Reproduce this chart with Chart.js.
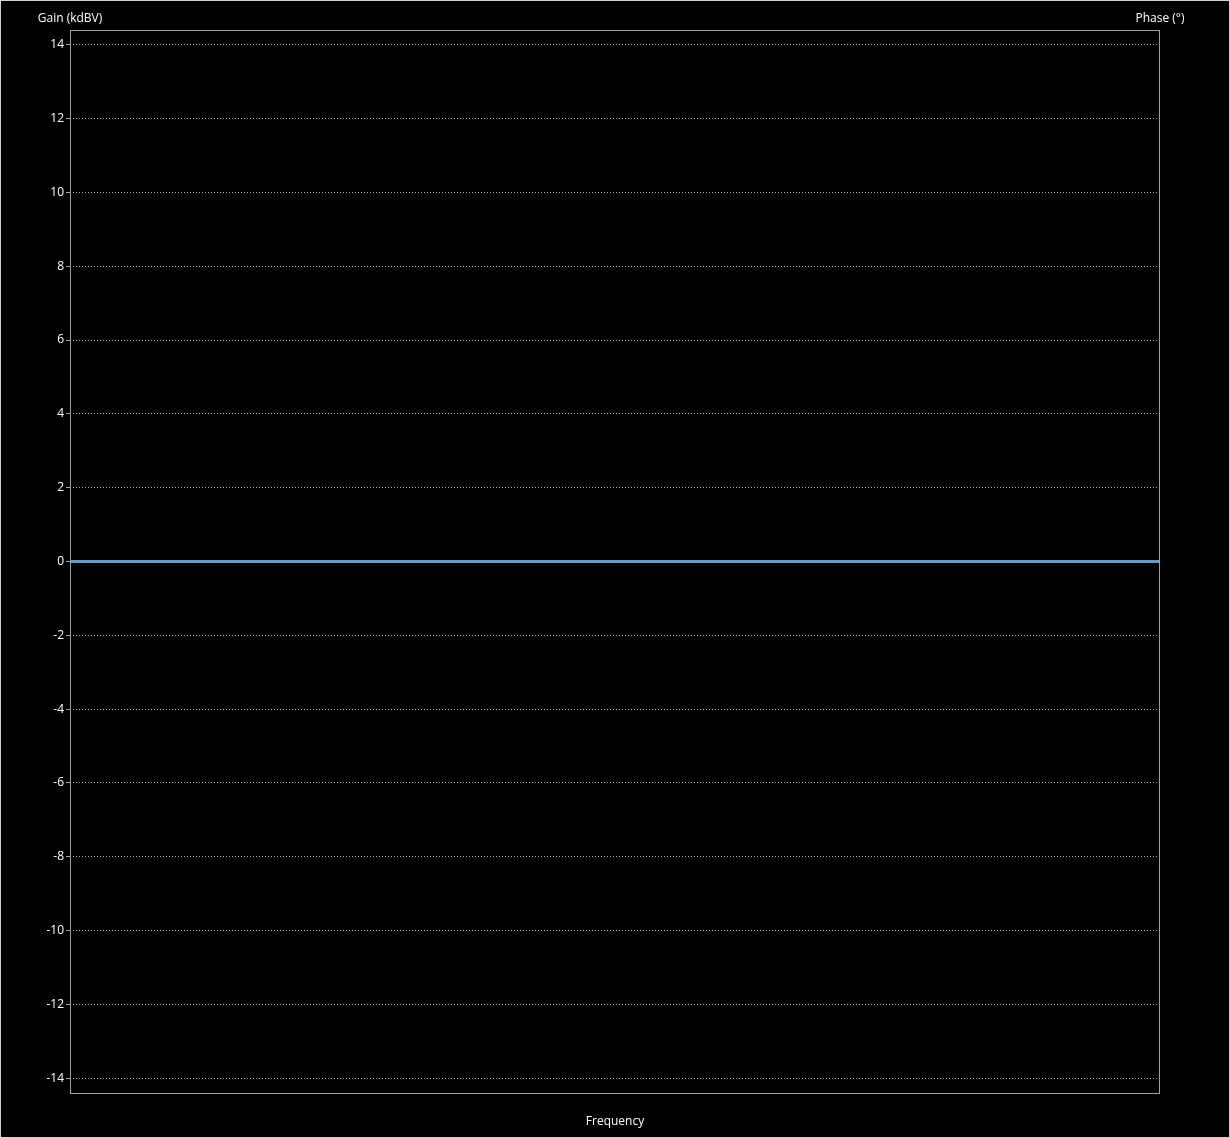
<!DOCTYPE html>
<html>
<head>
<meta charset="utf-8">
<script src="https://cdn.jsdelivr.net/npm/chart.js@4/dist/chart.umd.min.js"></script>
<style>
  html, body { margin: 0; padding: 0; background: #000; }
  #wrap { width: 1230px; height: 1138px; }
</style>
</head>
<body>
<div id="wrap"><canvas id="bode"></canvas></div>
<script>
const frequencies = [10, 100, 1000, 10000, 100000]
const gain = [0, 0, 0, 0, 0]
const gainTicks = [-14, -12, -10, -8, -6, -4, -2, 0, 2, 4, 6, 8, 10, 12, 14]
const gainRange = [-14.4, 14.4]

const labelFont = {family: "'Open Sans', 'Noto Sans', sans-serif", size: 12}

// black background, outer frame, box around the plot and the titles
const framePlugin = {
    id: 'frame',
    beforeDraw(chart) {
        const ctx = chart.ctx
        ctx.save()
        ctx.fillStyle = '#000'
        ctx.fillRect(0, 0, chart.width, chart.height)
        ctx.strokeStyle = '#d0d0d0'
        ctx.lineWidth = 1
        ctx.strokeRect(0.5, 0.5, chart.width - 1, chart.height - 1)
        ctx.restore()
    },
    afterDraw(chart) {
        const ctx = chart.ctx
        const a = chart.chartArea
        ctx.save()
        ctx.strokeStyle = '#a0a0a0'
        ctx.lineWidth = 1
        ctx.strokeRect(Math.round(a.left) + 0.5, Math.round(a.top) + 0.5, Math.round(a.right - a.left) - 1, Math.round(a.bottom - a.top))
        ctx.fillStyle = '#ffffff'
        ctx.font = `${labelFont.size}px ${labelFont.family}`
        ctx.textAlign = 'center'
        ctx.textBaseline = 'middle'
        ctx.fillText('Gain (kdBV)', a.left, 19)
        ctx.fillText('Phase (°)', a.right, 19)
        ctx.fillText('Frequency', (a.left + a.right) / 2, 1122)
        ctx.restore()
    }
}

new Chart('bode', {
    type: 'line',
    data: {
        datasets: [{
            label: 'Gain',
            data: frequencies.map((f, i) => ({x: f, y: gain[i]})),
            borderColor: '#5a9dd0',
            borderWidth: 3,
            pointRadius: 0,
            yAxisID: 'y'
        }]
    },
    options: {
        responsive: true,
        maintainAspectRatio: false,
        animation: false,
        layout: {padding: {top: 30, left: 0, right: 0, bottom: 0}},
        plugins: {
            legend: {display: false},
            tooltip: {enabled: false}
        },
        scales: {
            x: {
                type: 'logarithmic',
                min: frequencies[0],
                max: frequencies[frequencies.length - 1],
                ticks: {display: false},
                grid: {display: false},
                border: {display: false},
                afterFit: s => { s.height = 45 }
            },
            y: {
                position: 'left',
                min: gainRange[0],
                max: gainRange[1],
                z: 1,
                afterBuildTicks: s => { s.ticks = gainTicks.map(v => ({value: v})) },
                ticks: {color: '#ffffff', font: labelFont, padding: 2},
                grid: {
                    color: '#a8a8a8',
                    tickColor: '#a0a0a0',
                    tickLength: 4,
                    tickBorderDash: [],
                    drawTicks: true
                },
                border: {display: false, dash: [1, 2]},
                afterFit: s => { s.width = 70 }
            },
            y1: {
                position: 'right',
                min: -180,
                max: 180,
                ticks: {display: false},
                grid: {display: false},
                border: {display: false},
                afterFit: s => { s.width = 70 }
            }
        }
    },
    plugins: [framePlugin]
})
</script>
</body>
</html>
